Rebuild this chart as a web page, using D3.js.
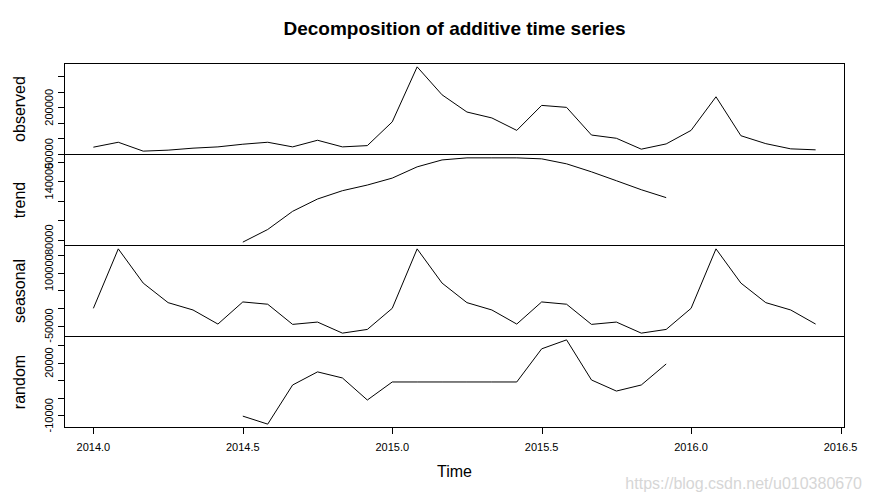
<!DOCTYPE html>
<html>
<head>
<meta charset="utf-8">
<script src="https://cdn.jsdelivr.net/npm/d3@7"></script>
<style>
  html, body { margin: 0; padding: 0; background: #ffffff; }
  svg { display: block; }
  text { font-family: "Liberation Sans", Arial, sans-serif; fill: #000; }
</style>
</head>
<body>
<svg id="chart" width="871" height="504"></svg>
<script>
// ---- data (monthly time series, start 2014, frequency 12) ----
const tsStart = 2014;
const tsFrequency = 12;

const observed = [70500, 86500, 57700, 60900, 67300, 71500, 80100, 86500, 71500, 93000, 71500, 75600,
                  152600, 331100, 240400, 184600, 165400, 125000, 206100, 199700, 109900, 99400, 64100, 81100,
                  125000, 234000, 107700, 82000, 65100, 61900];

const trend = [null, null, null, null, null, null,
               77560, 90490, 109100, 121700, 130200, 136000,
               143100, 154600, 161700, 163800, 163800, 163800, 162800, 157700, 149500, 140400, 131200, 123100,
               null, null, null, null, null, null];

const seasonal = [-1000, 167700, 70600, 15100, -5700, -45700, 17100, 10600, -46600, -40000, -71400, -60900,
                  -1000, 167700, 70600, 15100, -5700, -45700, 17100, 10600, -46600, -40000, -71400, -60900,
                  -1000, 167700, 70600, 15100, -5700, -45700];

const random = [null, null, null, null, null, null,
                -10450, -15000, 7250, 14700, 11250, -1300,
                8960, 8960, 8960, 8960, 8960, 8960, 27800, 32900, 10100, 3800, 7250, 19200,
                null, null, null, null, null, null];

const panelNames = ["observed", "trend", "seasonal", "random"];

const xTicks = [2014.0, 2014.5, 2015.0, 2015.5, 2016.0, 2016.5];
const xTickLabels = ["2014.0", "2014.5", "2015.0", "2015.5", "2016.0", "2016.5"];

const observedTicks = [50000, 100000, 150000, 200000, 250000, 300000];
const observedTickLabels = ["50000", "", "", "200000", "", ""];
const trendTicks = [80000, 100000, 120000, 140000, 160000];
const trendTickLabels = ["80000", "", "", "140000", ""];
const seasonalTicks = [-50000, 0, 50000, 100000, 150000];
const seasonalTickLabels = ["-50000", "", "", "100000", ""];
const randomTicks = [-10000, 0, 10000, 20000, 30000];
const randomTickLabels = ["-10000", "", "", "20000", ""];

const titleText = "Decomposition of additive time series";
const xTitle = "Time";
const watermark = "https://blog.csdn.net/u010380670";

// ---- layout ----
const svg = d3.select("#chart");
const left = 64.5, right = 844.5;
const panelTop = 63.5, panelH = 91;

const times = observed.map((_, i) => tsStart + i / tsFrequency);
const tMin = times[0], tMax = times[times.length - 1];
const tPad = (tMax - tMin) * 0.04;
const x = d3.scaleLinear().domain([tMin - tPad, tMax + tPad]).range([left, right]);

const panels = [
  { name: panelNames[0], values: observed, ticks: observedTicks, labels: observedTickLabels },
  { name: panelNames[1], values: trend,    ticks: trendTicks,    labels: trendTickLabels },
  { name: panelNames[2], values: seasonal, ticks: seasonalTicks, labels: seasonalTickLabels },
  { name: panelNames[3], values: random,   ticks: randomTicks,   labels: randomTickLabels }
];

panels.forEach((p, i) => {
  const top = panelTop + i * panelH;
  const bottom = top + panelH;
  const ext = d3.extent(p.values.filter(v => v != null));
  const pad = (ext[1] - ext[0]) * 0.04;
  const y = d3.scaleLinear().domain([ext[0] - pad, ext[1] + pad]).range([bottom, top]);

  const g = svg.append("g");

  // y axis ticks
  g.selectAll("line.tick").data(p.ticks).enter().append("line")
    .attr("x1", left - 6.5).attr("x2", left)
    .attr("y1", d => Math.round(y(d)) + 0.5).attr("y2", d => Math.round(y(d)) + 0.5)
    .attr("stroke", "#000").attr("stroke-width", 1);

  // y tick labels (rotated)
  p.ticks.forEach((t, k) => {
    if (!p.labels[k]) return;
    const yy = y(t);
    g.append("text")
      .attr("transform", `translate(53,${yy}) rotate(-90)`)
      .attr("text-anchor", "middle")
      .attr("font-size", "11px")
      .text(p.labels[k]);
  });

  // series line
  const line = d3.line()
    .defined(d => d.v != null)
    .x(d => x(d.t))
    .y(d => y(d.v));
  g.append("path")
    .datum(p.values.map((v, k) => ({ t: times[k], v: v })))
    .attr("d", line)
    .attr("fill", "none")
    .attr("stroke", "#000")
    .attr("stroke-width", 1);

  // panel box
  g.append("rect")
    .attr("x", left).attr("y", top)
    .attr("width", right - left).attr("height", panelH)
    .attr("fill", "none").attr("stroke", "#000").attr("stroke-width", 1);

  // panel name
  g.append("text")
    .attr("transform", `translate(25,${(top + bottom) / 2}) rotate(-90)`)
    .attr("text-anchor", "middle")
    .attr("font-size", "16px")
    .text(p.name);
});

// x axis at bottom
const axisY = panelTop + 4 * panelH;
const xg = svg.append("g");
xg.selectAll("line").data(xTicks).enter().append("line")
  .attr("x1", d => Math.round(x(d)) + 0.5).attr("x2", d => Math.round(x(d)) + 0.5)
  .attr("y1", axisY).attr("y2", axisY + 6.5)
  .attr("stroke", "#000").attr("stroke-width", 1);
xg.selectAll("text").data(xTicks).enter().append("text")
  .attr("x", d => x(d)).attr("y", 451)
  .attr("text-anchor", "middle")
  .attr("font-size", "11px")
  .text((d, k) => xTickLabels[k]);

// titles
svg.append("text")
  .attr("x", (left + right) / 2).attr("y", 35)
  .attr("text-anchor", "middle")
  .attr("font-size", "19px").attr("font-weight", "bold")
  .text(titleText);

svg.append("text")
  .attr("x", (left + right) / 2).attr("y", 477)
  .attr("text-anchor", "middle")
  .attr("font-size", "16px")
  .text(xTitle);

svg.append("text")
  .attr("x", 862).attr("y", 489)
  .attr("text-anchor", "end")
  .attr("font-size", "16px")
  .style("fill", "#d6d6d6")
  .text(watermark);
</script>
</body>
</html>
